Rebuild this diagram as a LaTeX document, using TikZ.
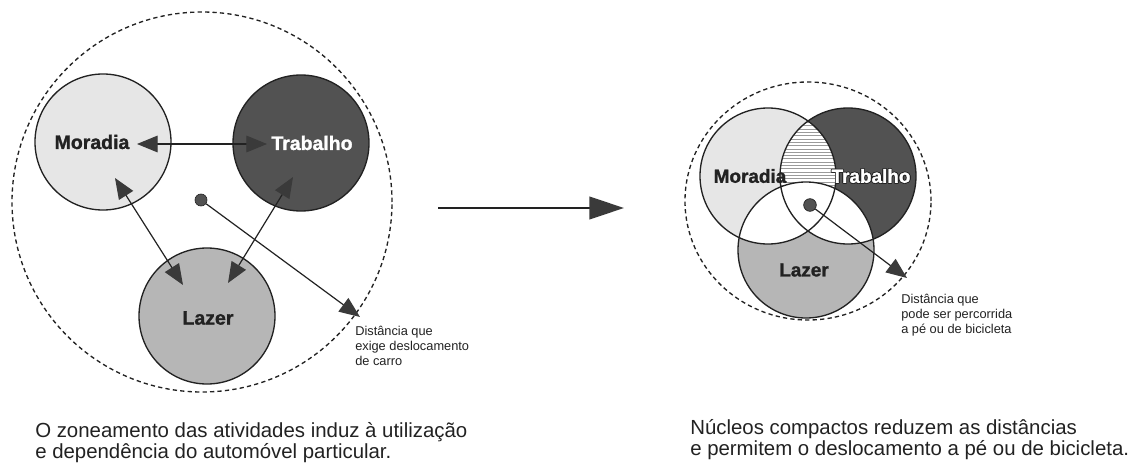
\documentclass[tikz,border=0pt]{standalone}
\usepackage{fontspec}
\setmainfont{Liberation Sans}
\newfontfamily\heavy[FakeBold=1.4]{Liberation Sans Bold}
\usetikzlibrary{arrows.meta,shapes.geometric}
\definecolor{lightg}{HTML}{E6E6E6}
\definecolor{darkg}{HTML}{525252}
\definecolor{midg}{HTML}{B6B6B6}
\definecolor{ink}{HTML}{222222}
\definecolor{tipc}{HTML}{3A3A3A}
\definecolor{hatchc}{HTML}{9A9A9A}
\begin{document}
\begin{tikzpicture}[x=0.75pt,y=-0.75pt,
  zone/.style={circle, draw=ink, line width=1pt, inner sep=0pt, minimum size=102pt},
  lbl/.style={font=\heavy\fontsize{14.6}{16}\selectfont, inner sep=0pt},
  lblr/.style={font=\heavy\fontsize{14.2}{16}\selectfont, inner sep=0pt},
  tipA/.tip={Triangle[length=15.5pt,width=12.5pt,fill=tipc,color=tipc]},
  link/.style={draw=ink, line width=0.9pt, tipA-tipA},
  ptr/.style={draw=ink, line width=0.9pt, -tipA},
  dot/.style={circle, fill=darkg, draw=ink, line width=0.5pt, minimum size=9pt, inner sep=0pt},
  reach/.style={draw=ink, line width=1pt, dash pattern=on 3.2pt off 2.4pt},
  note/.style={font=\fontsize{9.6}{11}\selectfont, inner sep=0pt, anchor=base west, text=ink},
  caption/.style={font=\fontsize{15.3}{18}\selectfont, inner sep=0pt, anchor=base west, text=ink}
]
\useasboundingbox (0,0) rectangle (1140,464);
\fill[white] (0,0) rectangle (1140,464);

% ---------- left figure ----------
\node[circle, reach, minimum size=285pt, inner sep=0pt] (big1) at (202,202) {};
\node[zone, fill=lightg] (mc) at (103,142) {};
\node[zone, fill=darkg] (tc) at (301,143) {};
\node[zone, fill=midg] (lc) at (207,316) {};
\node[lbl, text=ink] (mt) at (92,142) {Moradia};
\node[lbl, text=white] (tt) at (312,143) {Trabalho};
\node[lbl, text=ink] (lt) at (208,318) {Lazer};

\coordinate (mtr) at (137,144);
\coordinate (ttl) at (267,144);
\draw[link] (mtr) -- (ttl);
\coordinate (mlu) at (115,178);
\coordinate (mld) at (183,285);
\draw[link] (mlu) -- (mld);
\coordinate (tlu) at (293,177);
\coordinate (tld) at (228,283);
\draw[link] (tlu) -- (tld);

\node[dot] (d1) at (201,200) {};
\coordinate (e1) at (360,317);
\draw[ptr] (d1) -- (e1);

\node[note] (n1a) at (355,335) {Distância que};
\node[note] (n1b) at (355,350) {exige deslocamento};
\node[note] (n1c) at (355,365) {de carro};

\node[caption] (c1a) at (35,437) {O zoneamento das atividades induz à utilização};
\node[caption] (c1b) at (35,458) {e dependência do automóvel particular.};

% ---------- middle arrow ----------
\coordinate (ma) at (438,208);
\coordinate (mb) at (624,208);
\draw[ink, line width=1.4pt, -{Triangle[length=26pt,width=17pt,fill=tipc,color=tipc]}] (ma) -- (mb);

% ---------- right figure ----------
\node[ellipse, reach, minimum width=184.5pt, minimum height=178.5pt, inner sep=0pt] (big2) at (808,201) {};
\fill[lightg] (768,176) circle[radius=51pt];
\fill[darkg] (848,176) circle[radius=51pt];
\begin{scope}
  \clip (768,176) circle[radius=51pt];
  \clip (848,176) circle[radius=51pt];
  \fill[white] (700,100) rectangle (920,260);
  \foreach \yy in {106,109.3,...,250} \draw[hatchc, line width=0.5pt] (770,\yy) -- (850,\yy);
\end{scope}
\fill[midg] (806,250) circle[radius=51pt];
\begin{scope}
  \clip (806,250) circle[radius=51pt];
  \fill[white] (768,176) circle[radius=51pt];
  \fill[white] (848,176) circle[radius=51pt];
\end{scope}
\node[zone] (mc2) at (768,176) {};
\node[zone] (tc2) at (848,176) {};
\node[zone] (lc2) at (806,250) {};
\node[lblr, text=ink] (mt2) at (750,176) {Moradia};
\foreach \dx/\dy [count=\k] in {0.6/0,-0.6/0,0/0.6,0/-0.6,0.45/0.45,-0.45/0.45,0.45/-0.45,-0.45/-0.45}
  \node[lblr, text=ink] (tto\k) at ([shift={(\dx pt,\dy pt)}]871,176) {Trabalho};
\node[lblr, text=white] (tt2) at (871,176) {Trabalho};
\node[lblr, text=ink] (lt2) at (804,270) {Lazer};

\node[dot, minimum size=9.5pt] (d2) at (810,205) {};
\coordinate (e2) at (907,278);
\draw[ptr] (d2) -- (e2);

\node[note] (n2a) at (901,303) {Distância que};
\node[note] (n2b) at (901,318.5) {pode ser percorrida};
\node[note] (n2c) at (901,333) {a pé ou de bicicleta};

\node[caption] (c2a) at (690,434) {Núcleos compactos reduzem as distâncias};
\node[caption] (c2b) at (690,455) {e permitem o deslocamento a pé ou de bicicleta.};
\end{tikzpicture}
\end{document}
